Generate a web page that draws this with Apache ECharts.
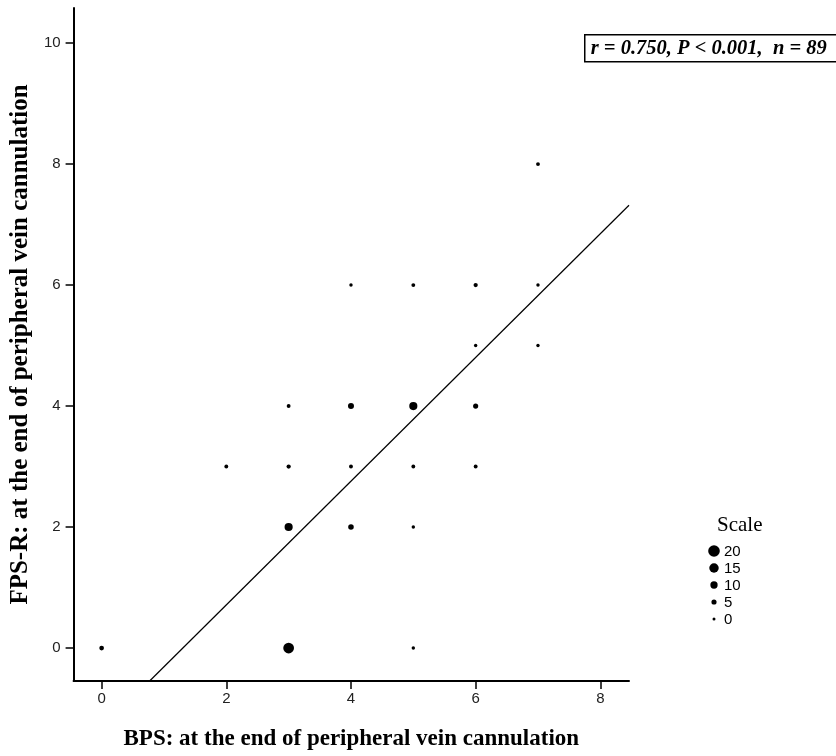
<!DOCTYPE html>
<html>
<head>
<meta charset="utf-8">
<script src="https://cdn.jsdelivr.net/npm/echarts@6/dist/echarts.min.js"></script>
<style>html,body{margin:0;padding:0;background:#fff}#c{width:836px;height:756px}</style>
</head>
<body>
<div id="c"></div>
<script>
// Data
const bpsX   = [0, 3, 5, 3, 4, 5, 2, 3, 4, 5, 6, 3, 4, 5, 6, 6, 7, 4, 5, 6, 7, 7];
const fpsY   = [0, 0, 0, 2, 2, 2, 3, 3, 3, 3, 3, 4, 4, 4, 4, 5, 5, 6, 6, 6, 6, 8];
const counts = [4,18, 1,12, 6, 1, 2, 3, 2, 2, 2, 2, 7,12, 5, 1, 1, 1, 2, 3, 1, 2];
const fitX = [0.77, 8.46];
const fitY = [-0.545, 7.32];
const xTicks = [0, 2, 4, 6, 8];
const yTicks = [0, 2, 4, 6, 8, 10];
const scaleValues = [20, 15, 10, 5, 0];
const annotation = 'r = 0.750, P < 0.001,  n = 89';

const sizeOf = c => 3 + 0.43 * c;

const pts = bpsX.map((x, i) => [x, fpsY[i], counts[i]]);
const fit = fitX.map((x, i) => [x, fitY[i]]);

const chart = echarts.init(document.getElementById('c'), null, {renderer: 'canvas'});

const axisCommon = {
  type: 'value',
  splitLine: {show: false},
  axisLine: {show: true, onZero: false, lineStyle: {color: '#000', width: 2}},
  axisTick: {show: true, length: 8, lineStyle: {color: '#000', width: 1.5}},
  axisLabel: {color: '#222', fontFamily: 'Liberation Sans, Arial', fontSize: 15},
  nameLocation: 'middle',
  nameTextStyle: {fontFamily: 'Liberation Serif, Times New Roman', fontWeight: 'bold', fontSize: 23, color: '#000'}
};

const legendGraphics = [{
  type: 'text', left: 717, top: 515,
  style: {text: 'Scale', font: '21px "Liberation Serif"', fill: '#000'}
}];
scaleValues.forEach((v, k) => {
  const cy = 551 + 17 * k;
  legendGraphics.push({type: 'circle', shape: {cx: 714, cy: cy, r: sizeOf(v) / 2}, style: {fill: '#000'}});
  legendGraphics.push({type: 'text', x: 724, y: cy + 1, style: {text: String(v), font: '15px "Liberation Sans"', fill: '#000', textVerticalAlign: 'middle'}});
});

chart.setOption({
  animation: false,
  backgroundColor: '#fff',
  grid: {left: 72, right: 207, top: 8, bottom: 75, containLabel: false},
  xAxis: Object.assign({}, axisCommon, {
    min: -0.45, max: 8.46,
    name: 'BPS: at the end of peripheral vein cannulation',
    nameGap: 47,
    axisTick: Object.assign({}, axisCommon.axisTick, {customValues: xTicks}),
    axisLabel: Object.assign({}, axisCommon.axisLabel, {customValues: xTicks, margin: 10})
  }),
  yAxis: Object.assign({}, axisCommon, {
    min: -0.545, max: 10.58,
    name: 'FPS-R: at the end of peripheral vein cannulation',
    nameGap: 40,
    nameTextStyle: Object.assign({}, axisCommon.nameTextStyle, {fontSize: 25}),
    axisTick: Object.assign({}, axisCommon.axisTick, {customValues: yTicks}),
    axisLabel: Object.assign({}, axisCommon.axisLabel, {customValues: yTicks, margin: 13})
  }),
  series: [
    {
      type: 'scatter',
      data: pts,
      symbol: 'circle',
      symbolSize: d => sizeOf(d[2]),
      itemStyle: {color: '#000', opacity: 1},
      z: 3
    },
    {
      type: 'line',
      data: fit,
      showSymbol: false,
      lineStyle: {color: '#000', width: 1.2},
      z: 2
    }
  ],
  graphic: [
    {
      type: 'group', left: 584, top: 34,
      children: [
        {type: 'rect', shape: {x: 0, y: 0, width: 260, height: 27}, style: {fill: '#fff', stroke: '#000', lineWidth: 1.5}},
        {type: 'text', x: 6, y: 14, style: {text: annotation, font: 'italic bold 20.5px "Liberation Serif"', fill: '#000', textVerticalAlign: 'middle'}}
      ]
    }
  ].concat(legendGraphics)
});
</script>
</body>
</html>
